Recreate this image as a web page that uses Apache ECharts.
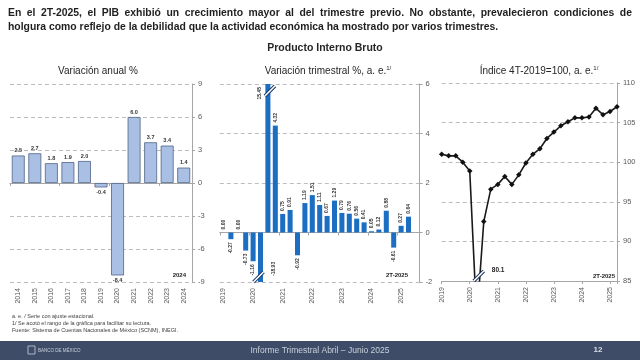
<!DOCTYPE html>
<html><head><meta charset="utf-8">
<script src="https://cdn.jsdelivr.net/npm/echarts@6/dist/echarts.min.js"></script>
<style>html,body{margin:0;padding:0;background:#fff}#c{width:640px;height:360px}</style>
</head><body><div id="c"></div>
<script>
// ---------- data ----------
const annualYears = ['2014','2015','2016','2017','2018','2019','2020','2021','2022','2023','2024'];
const annualGrowth = [2.5, 2.7, 1.8, 1.9, 2.0, -0.4, -8.4, 6.0, 3.7, 3.4, 1.4];
const annualTicks = [-9, -6, -3, 0, 3, 6, 9];

const quarterLabels = ['1T-2019','2T-2019','3T-2019','4T-2019','1T-2020','2T-2020','3T-2020','4T-2020',
  '1T-2021','2T-2021','3T-2021','4T-2021','1T-2022','2T-2022','3T-2022','4T-2022',
  '1T-2023','2T-2023','3T-2023','4T-2023','1T-2024','2T-2024','3T-2024','4T-2024','1T-2025','2T-2025'];
const qoqGrowth = [0.00, -0.27, 0.00, -0.73, -1.16, -18.93, 15.45, 4.32, 0.75, 0.91, -0.92, 1.19, 1.51,
  1.11, 0.67, 1.29, 0.79, 0.76, 0.56, 0.41, 0.05, 0.12, 0.88, -0.61, 0.27, 0.64];
const qoqTicks = [-2, 0, 2, 4, 6];

const indexLevel = [101.0, 100.8, 100.8, 100.0, 98.9, 80.1, 92.5, 96.6, 97.2, 98.2, 97.2, 98.4, 99.9,
  101.0, 101.7, 103.0, 103.8, 104.6, 105.1, 105.6, 105.6, 105.7, 106.8, 106.0, 106.4, 107.0];
const indexTicks = [85, 90, 95, 100, 105, 110];

const headline = [
  'En el 2T-2025, el PIB exhibió un crecimiento mayor al del trimestre previo. No obstante, prevalecieron condiciones de',
  'holgura como reflejo de la debilidad que la actividad económica ha mostrado por varios trimestres.'
];
const notes = [
  'a. e. / Serie con ajuste estacional.',
  '1/ Se acotó el rango de la gráfica para facilitar su lectura.',
  'Fuente: Sistema de Cuentas Nacionales de México (SCNM), INEGI.'
];

// ---------- helpers ----------
const FONT = '"Liberation Sans", Arial, sans-serif';
const lastQ = quarterLabels[quarterLabels.length - 1];
const qoqAxis = quarterLabels.concat(['3T-2025']);
const yearFmt = v => (v && v.indexOf('1T-') === 0) ? v.slice(3) : '';
const qMin = qoqTicks[0], qMax = qoqTicks[qoqTicks.length - 1];
const iMin = indexTicks[0], iMax = indexTicks[indexTicks.length - 1];

const gridLine = { show: true, lineStyle: { color: '#bdbdbd', type: [4, 3], width: 1 } };
const yLabel = { color: '#595959', fontSize: 7.5, fontFamily: FONT, margin: 6 };
const rightAxisLine = { show: true, lineStyle: { color: '#a6a6a6', width: 1 } };
const rightTick = { show: true, length: 3, lineStyle: { color: '#a6a6a6' } };
const xLab = { color: '#595959', fontSize: 7, fontFamily: FONT, rotate: 90, margin: 6 };

const chart = echarts.init(document.getElementById('c'), null, { renderer: 'canvas' });

const option = {
  animation: false,
  backgroundColor: '#fff',
  grid: [
    { left: 10, width: 182, top: 84, height: 198 },
    { left: 219.8, width: 199.8, top: 84, height: 198 },
    { left: 441.7, width: 175.3, top: 83, height: 198 }
  ],
  xAxis: [
    { gridIndex: 0, type: 'category', data: annualYears, position: 'bottom',
      axisLine: { show: false, onZero: false }, axisTick: { show: false }, axisLabel: xLab },
    { gridIndex: 0, type: 'category', data: annualYears, position: 'bottom',
      axisLine: { show: true, onZero: true, lineStyle: { color: '#a6a6a6' } },
      axisTick: { show: true, length: 3, lineStyle: { color: '#a6a6a6' } }, axisLabel: { show: false } },
    { gridIndex: 1, type: 'category', data: qoqAxis, position: 'bottom',
      axisLine: { show: false, onZero: false }, axisTick: { show: false },
      axisLabel: Object.assign({}, xLab, { interval: 0, formatter: yearFmt }) },
    { gridIndex: 1, type: 'category', data: qoqAxis, position: 'bottom',
      axisLine: { show: true, onZero: true, lineStyle: { color: '#a6a6a6' } },
      axisTick: { show: true, interval: 3, length: 3, lineStyle: { color: '#a6a6a6' } }, axisLabel: { show: false } },
    { gridIndex: 2, type: 'category', data: quarterLabels, boundaryGap: false, position: 'bottom',
      axisLine: { show: true, onZero: false, lineStyle: { color: '#a6a6a6' } },
      axisTick: { show: true, interval: 3, length: 3, lineStyle: { color: '#a6a6a6' } },
      axisLabel: Object.assign({}, xLab, { interval: 0, formatter: yearFmt }) }
  ],
  yAxis: [
    { gridIndex: 0, type: 'value', position: 'right', min: annualTicks[0], max: annualTicks[annualTicks.length - 1],
      interval: annualTicks[1] - annualTicks[0], splitLine: gridLine, axisLine: rightAxisLine, axisTick: rightTick, axisLabel: yLabel },
    { gridIndex: 1, type: 'value', position: 'right', min: qMin, max: qMax, interval: qoqTicks[1] - qoqTicks[0],
      splitLine: gridLine, axisLine: rightAxisLine, axisTick: rightTick, axisLabel: yLabel },
    { gridIndex: 2, type: 'value', position: 'right', min: iMin, max: iMax, interval: indexTicks[1] - indexTicks[0],
      splitLine: gridLine, axisLine: rightAxisLine, axisTick: rightTick, axisLabel: yLabel }
  ],
  series: [
    { type: 'bar', xAxisIndex: 0, yAxisIndex: 0, barWidth: '78%',
      itemStyle: { color: '#a9c0e4', borderColor: '#4f6385', borderWidth: 0.8 },
      label: { show: true, fontSize: 5.5, fontWeight: 'bold', color: '#333', fontFamily: FONT, distance: 2,
        formatter: p => annualGrowth[p.dataIndex].toFixed(1) },
      data: annualGrowth.map(v => ({ value: v, label: { position: v < 0 ? 'bottom' : 'top' } })) },
    { type: 'bar', xAxisIndex: 2, yAxisIndex: 1, barWidth: '68%', clip: true,
      itemStyle: { color: '#1b6ec2' },
      label: { show: true, fontSize: 5, fontWeight: 'bold', color: '#333', fontFamily: FONT, rotate: 90,
        verticalAlign: 'middle', formatter: p => qoqGrowth[p.dataIndex].toFixed(2) },
      data: qoqGrowth.map(v => {
        const shown = Math.max(qMin, Math.min(qMax, v));
        let label;
        if (v > qMax) label = { position: 'insideTop', align: 'right', distance: 3, offset: [0, -8] };
        else if (v < qMin) label = { position: 'insideBottom', align: 'left', distance: 6, offset: [0, 13] };
        else if (v < 0) label = { position: 'bottom', align: 'right', distance: 3 };
        else label = { position: 'top', align: 'left', distance: 3 };
        return { value: shown, label };
      }) },
    { type: 'line', xAxisIndex: 4, yAxisIndex: 2, clip: true, symbol: 'diamond', symbolSize: 5.5,
      lineStyle: { color: '#1a1a1a', width: 1.6 }, itemStyle: { color: '#111' },
      data: indexLevel }
  ],
  graphic: []
};
chart.setOption(option);

// ---------- text & decorations ----------
const g = [];
function txt(x, y, text, font, color, align, extra) {
  g.push({ type: 'text', x, y, silent: true,
    style: Object.assign({ text, font, fill: color, align: align || 'left', verticalAlign: 'middle' }, extra || {}) });
}
// justified first headline line
const HFONT = 'bold 10.4px ' + FONT;
(function () {
  const ctx = document.createElement('canvas').getContext('2d');
  ctx.font = HFONT;
  const words = headline[0].split(' ');
  const widths = words.map(w => ctx.measureText(w).width);
  const total = widths.reduce((a, b) => a + b, 0);
  const left = 8, right = 632;
  const gap = (right - left - total) / (words.length - 1);
  let x = left;
  words.forEach((w, i) => { txt(x, 13, w, HFONT, '#1f1f1f'); x += widths[i] + gap; });
})();
txt(8, 27, headline[1], HFONT, '#1f1f1f');
txt(325, 48, 'Producto Interno Bruto', 'bold 10.5px ' + FONT, '#262626', 'center');
txt(98, 71, 'Variación anual %', '10px ' + FONT, '#262626', 'center');
const supRich = { a: { fontSize: 10, fontFamily: FONT, fill: '#262626' }, s: { fontSize: 6, fontFamily: FONT, fill: '#262626', padding: [0, 0, 6, 0] } };
txt(328, 71, '{a|Variación trimestral %, a. e.}{s|1/}', '10px ' + FONT, '#262626', 'center', { rich: supRich });
txt(539, 71, '{a|Índice 4T-2019=100, a. e.}{s|1/}', '10px ' + FONT, '#262626', 'center', { rich: supRich });

txt(186, 275, annualYears[annualYears.length - 1], 'bold 6px ' + FONT, '#222', 'right');
txt(408, 275, lastQ, 'bold 6px ' + FONT, '#222', 'right');
txt(615, 276, lastQ, 'bold 6px ' + FONT, '#222', 'right');

notes.forEach((n, i) => txt(12, 316 + i * 7, n, '5.5px ' + FONT, '#404040'));

// break marks
function brk(cx, cy) {
  const a = [cx - 5, cy + 5], b = [cx + 5, cy - 5];
  g.push({ type: 'line', silent: true, z: 100, shape: { x1: a[0], y1: a[1], x2: b[0], y2: b[1] },
    style: { stroke: '#1f3864', lineWidth: 3.6 } });
  g.push({ type: 'line', silent: true, z: 101, shape: { x1: a[0], y1: a[1], x2: b[0], y2: b[1] },
    style: { stroke: '#fff', lineWidth: 1.6 } });
}
qoqGrowth.forEach((v, i) => {
  if (v > qMax) { const p = chart.convertToPixel({ xAxisIndex: 2, yAxisIndex: 1 }, [i, qMax]); brk(p[0] + 2, p[1] + 7); }
  if (v < qMin) { const p = chart.convertToPixel({ xAxisIndex: 2, yAxisIndex: 1 }, [i, qMin]); brk(p[0] - 2, p[1] - 5); }
});
indexLevel.forEach((v, i) => {
  if (v < iMin) {
    const p = chart.convertToPixel({ xAxisIndex: 4, yAxisIndex: 2 }, [i, iMin]);
    brk(p[0] + 2, p[1] - 5);
    txt(p[0] + 15, p[1] - 11, v.toFixed(1), 'bold 6.5px ' + FONT, '#222');
  }
});

// bottom band
g.push({ type: 'rect', silent: true, shape: { x: 0, y: 341, width: 640, height: 19 }, style: { fill: '#3e4c67' } });
g.push({ type: 'rect', silent: true, shape: { x: 28, y: 346, width: 7, height: 8 }, style: { fill: 'none', stroke: '#c9d0dc', lineWidth: 0.8 } });
txt(38, 351, 'BANCO DE MÉXICO', '4.5px ' + FONT, '#c9d0dc');
txt(320, 351, 'Informe Trimestral Abril – Junio 2025', '8.5px ' + FONT, '#c9d0dc', 'center');
txt(598, 350, '12', 'bold 8px ' + FONT, '#d6dbe4', 'center');

chart.setOption({ graphic: g });
</script>
</body></html>
